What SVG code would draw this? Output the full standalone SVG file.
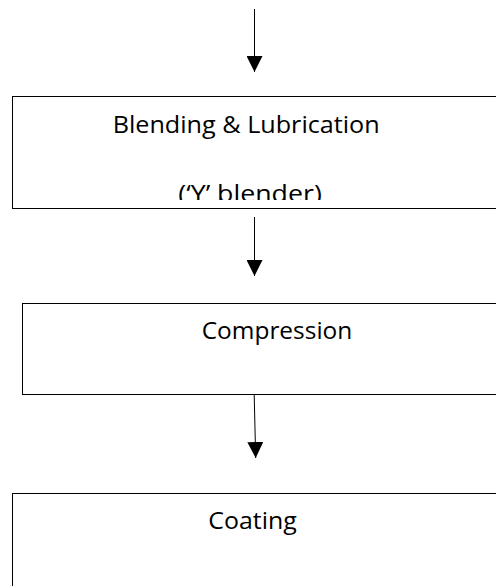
<svg xmlns="http://www.w3.org/2000/svg" width="496" height="586" viewBox="0 0 496 586">
<style>
.box{fill:#fff;stroke:#000;stroke-width:1}
.lbl{font-family:"Open Sans","Noto Sans",sans-serif;font-size:24px;fill:#000}
.conn{stroke:#000;stroke-width:1;fill:none}
</style>
<defs>
<marker id="ah" viewBox="0 0 16 16" refX="16" refY="8" markerWidth="16" markerHeight="16" markerUnits="userSpaceOnUse" orient="auto">
<path d="M0,0 L16,8 L0,16 Z" fill="#000"/>
</marker>
<clipPath id="clip1"><rect x="13" y="97" width="483" height="103"/></clipPath>
</defs>
<rect width="496" height="586" fill="#fff"/>
<g id="connectors">
<line class="conn" x1="254.5" y1="9" x2="254.5" y2="72" marker-end="url(#ah)"/>
<line class="conn" x1="254.5" y1="217" x2="254.5" y2="276" marker-end="url(#ah)"/>
<line class="conn" x1="254.2" y1="395" x2="255.7" y2="458" marker-end="url(#ah)"/>
</g>
<g id="blending">
<rect class="box" x="12.5" y="96.5" width="500" height="112"/>
<text class="lbl" x="112.7" y="133.3" textLength="267" lengthAdjust="spacingAndGlyphs">Blending &amp; Lubrication</text>
<g clip-path="url(#clip1)">
<text class="lbl" x="178.3" y="202" textLength="143.5" lengthAdjust="spacingAndGlyphs">(‘Y’ blender)</text>
</g>
</g>
<g id="compression">
<rect class="box" x="22.5" y="303.5" width="490" height="91"/>
<text class="lbl" x="201.7" y="339.3" textLength="150.6" lengthAdjust="spacingAndGlyphs">Compression</text>
</g>
<g id="coating">
<rect class="box" x="12.5" y="493.5" width="500" height="120"/>
<text class="lbl" x="208.3" y="529.3" textLength="88.4" lengthAdjust="spacingAndGlyphs">Coating</text>
</g>
</svg>
